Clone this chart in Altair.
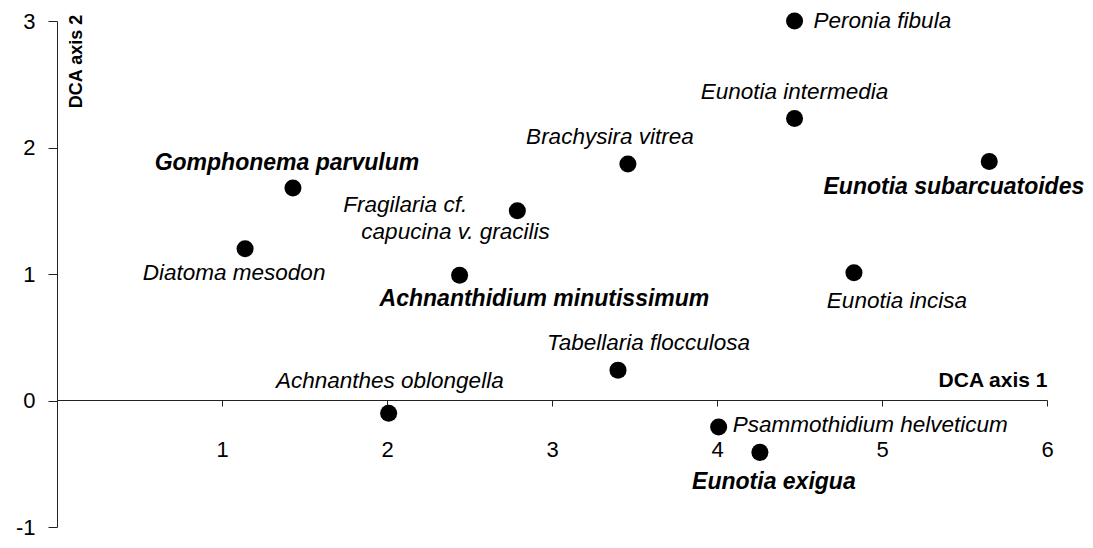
import altair as alt
import pandas as pd

# ---- data ----
species = [
    "Peronia fibula",
    "Eunotia intermedia",
    "Brachysira vitrea",
    "Eunotia subarcuatoides",
    "Gomphonema parvulum",
    "Fragilaria cf. capucina v. gracilis",
    "Diatoma mesodon",
    "Achnanthidium minutissimum",
    "Eunotia incisa",
    "Tabellaria flocculosa",
    "Achnanthes oblongella",
    "Psammothidium helveticum",
    "Eunotia exigua",
]
dca_axis1 = [4.47, 4.47, 3.46, 5.65, 1.43, 2.79, 1.14, 2.44, 4.83, 3.40, 2.01, 4.01, 4.26]
dca_axis2 = [3.00, 2.23, 1.87, 1.89, 1.68, 1.50, 1.20, 0.99, 1.01, 0.24, -0.10, -0.21, -0.41]
bold_species = [
    "Eunotia subarcuatoides",
    "Gomphonema parvulum",
    "Achnanthidium minutissimum",
    "Eunotia exigua",
]
x_ticks = [1, 2, 3, 4, 5, 6]
y_ticks = [-1, 0, 1, 2, 3]

df = pd.DataFrame({"species": species, "ax1": dca_axis1, "ax2": dca_axis2})

FONT = "Liberation Sans"
FS_TICK = 22
FS_LAB = 22.5
FS_BOLD = 23

# label placement (text, dx, dy, align) per species
label_layout = {
    "Peronia fibula": [("Peronia fibula", 19, 0, "left")],
    "Eunotia intermedia": [("Eunotia intermedia", 0, -26, "center")],
    "Brachysira vitrea": [("Brachysira vitrea", -18, -27, "center")],
    "Eunotia subarcuatoides": [("Eunotia subarcuatoides", 95, 26, "right")],
    "Gomphonema parvulum": [("Gomphonema parvulum", -6, -25, "center")],
    "Fragilaria cf. capucina v. gracilis": [
        ("Fragilaria cf.", -174, -6, "left"),
        ("capucina v.  gracilis", -156, 21, "left"),
    ],
    "Diatoma mesodon": [("Diatoma mesodon", -11, 24, "center")],
    "Achnanthidium minutissimum": [("Achnanthidium minutissimum", -80, 24, "left")],
    "Eunotia incisa": [("Eunotia incisa", 113, 28, "right")],
    "Tabellaria flocculosa": [("Tabellaria flocculosa", -71, -27, "left")],
    "Achnanthes oblongella": [("Achnanthes oblongella", 115, -32, "right")],
    "Psammothidium helveticum": [("Psammothidium helveticum", 14, -2, "left")],
    "Eunotia exigua": [("Eunotia exigua", 14, 30, "center")],
}

xscale = alt.Scale(domain=[0, 6], nice=False, zero=False)
yscale = alt.Scale(domain=[-1, 3], nice=False, zero=False)

base = alt.Chart(df)

points = base.mark_point(filled=True, color="black", size=290, opacity=1, shape="circle").encode(
    x=alt.X(
        "ax1:Q",
        scale=xscale,
        axis=alt.Axis(
            values=x_ticks,
            orient="bottom",
            offset=-127,
            grid=False,
            domainColor="#222222",
            tickColor="#222222",
            tickSize=6,
            labelPadding=43,
            labelBaseline="middle",
            labelExpr="toString(datum.value)",
            labelFont=FONT,
            labelFontSize=FS_TICK,
            labelColor="black",
            labelFlush=False,
            title="DCA axis 1",
            titleFont=FONT,
            titleFontSize=21,
            titleFontWeight="bold",
            titleColor="black",
            titleAlign="right",
            titleBaseline="middle",
            titleX=990,
            titleY=-20,
        ),
    ),
    y=alt.Y(
        "ax2:Q",
        scale=yscale,
        axis=alt.Axis(
            values=y_ticks,
            grid=False,
            domainColor="#222222",
            tickColor="#222222",
            tickSize=9,
            labelPadding=13,
            labelExpr="toString(datum.value)",
            labelFont=FONT,
            labelFontSize=FS_TICK,
            labelColor="black",
            labelFlush=False,
            title="DCA axis 2",
            titleFont=FONT,
            titleFontSize=18,
            titleFontWeight="bold",
            titleColor="black",
            titleAngle=270,
            titleAlign="center",
            titleBaseline="middle",
            titleX=19,
            titleY=40,
        ),
    ),
)

layers = [points]
for sp, items in label_layout.items():
    for text, dx, dy, align in items:
        is_bold = sp in bold_species
        layers.append(
            base.transform_filter(alt.datum.species == sp)
            .mark_text(
                text=text,
                dx=dx,
                dy=dy,
                align=align,
                baseline="middle",
                font=FONT,
                fontSize=FS_BOLD if is_bold else FS_LAB,
                fontStyle="italic",
                fontWeight="bold" if is_bold else "normal",
                color="black",
            )
            .encode(x=alt.X("ax1:Q", scale=xscale), y=alt.Y("ax2:Q", scale=yscale))
        )

chart = (
    alt.layer(*layers)
    .properties(
        width=990,
        height=506,
        autosize=alt.AutoSizeParams(type="none"),
        padding={"left": 49, "top": 13, "right": 38, "bottom": 13},
        background="white",
    )
    .configure_view(stroke=None)
)

chart.save("out.html", embed_options={"renderer": "svg", "actions": False})
